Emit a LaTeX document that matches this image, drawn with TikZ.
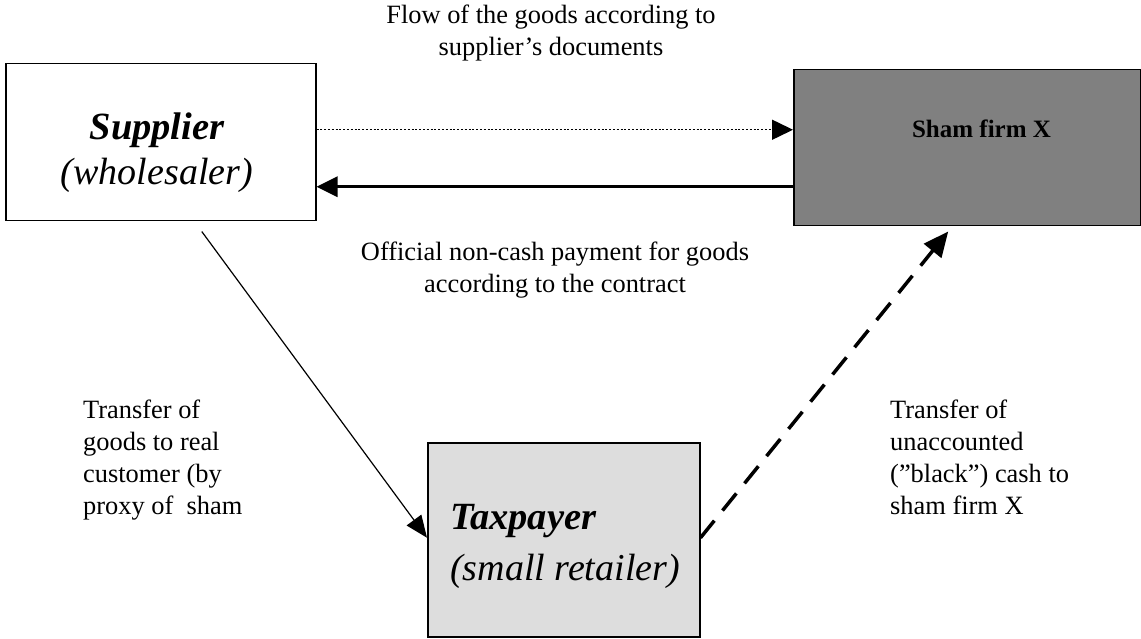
\documentclass[tikz,border=0pt]{standalone}
\usepackage{fontspec}
\setmainfont{Liberation Serif}
\usetikzlibrary{arrows.meta}
\definecolor{shamgray}{HTML}{808080}
\definecolor{taxgray}{HTML}{DDDDDD}
\begin{document}
\begin{tikzpicture}[x=1pt,y=-1pt,
  box/.style={draw=black, line width=1.5pt, rectangle, inner sep=0pt, anchor=north west},
  lbl/.style={font=\fontsize{26.4}{32}\selectfont, inner sep=0pt, anchor=base},
  bigbold/.style={font=\fontsize{38.5}{45}\selectfont\bfseries\itshape, inner sep=0pt},
  bigital/.style={font=\fontsize{38}{45}\selectfont\itshape, inner sep=0pt},
  shamtext/.style={font=\fontsize{25}{30}\selectfont\bfseries, inner sep=0pt, anchor=base},
  tipA/.style={-{Triangle[length=21pt,width=20pt]}},
  tipB/.style={-{Triangle[length=22pt,width=18pt]}},
  tipC/.style={-{Triangle[length=25pt,width=22pt]}},
]
\useasboundingbox (0,0) rectangle (1141,639);
% boxes
\node[box, minimum width=310pt, minimum height=157pt] (sup) at (5,63) {};
\node[box, fill=shamgray, minimum width=347pt, minimum height=156pt] (sham) at (793,69) {};
\node[box, fill=taxgray, minimum width=272pt, minimum height=194pt] (tax) at (427,442) {};
% box texts
\node[bigbold, anchor=base] (supT) at (157,140) {Supplier};
\node[bigital, anchor=base] (supS) at (157,185) {(wholesaler)};
\node[shamtext] (shamT) at (981.5,138) {Sham firm X};
\node[bigbold, anchor=base west] (taxT) at (450,529) {Taxpayer};
\node[bigital, anchor=base west] (taxS) at (450,580) {(small retailer)};
% labels (base anchor = baseline of the last line)
\node[lbl, align=center] (flowL) at (551,56) {Flow of the goods according to\\supplier’s documents};
\node[lbl, align=center] (payL) at (555,292) {Official non-cash payment for goods\\according to the contract};
\node[lbl, align=left, anchor=base west] (leftL) at (83,514) {Transfer of\\goods to real\\customer (by\\proxy of~ sham};
\node[lbl, align=left, anchor=base west] (rightL) at (890,514) {Transfer of\\unaccounted\\(”black”) cash to\\sham firm X};
% connectors
\draw[line width=1.5pt, dash pattern=on 2pt off 1.8pt, tipA]
  ([yshift=12.5pt]sup.east) -- ([yshift=12.5pt]sup.east -| sham.west);
\draw[line width=3.5pt, tipA]
  ([yshift=-44.5pt]sup.east -| sham.west) -- ([yshift=-44.5pt]sup.east);
\draw[line width=1.2pt, tipB]
  ([xshift=41pt,yshift=-10pt]sup.south) -- ([yshift=2pt]tax.west);
\draw[line width=3.5pt, dash pattern=on 22pt off 13pt, tipC]
  ([yshift=2pt]tax.east) -- ([xshift=-19pt,yshift=-5pt]sham.south);
\end{tikzpicture}
\end{document}
